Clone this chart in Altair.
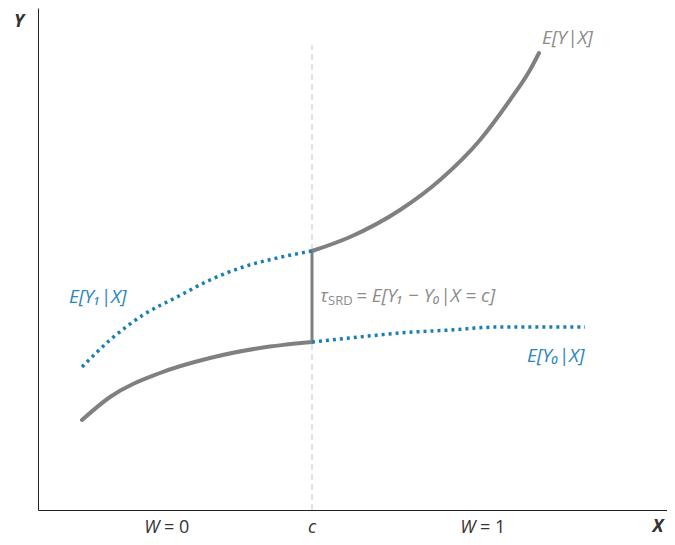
import altair as alt
import pandas as pd

# Curves (arbitrary units: x 0..629, y 0..502)
ey_left_x = [44, 72, 122, 172, 222, 274]
ey_left_y = [90, 113, 137, 152, 162, 168]
ey_right_x = [274, 312, 362, 402, 442, 472, 492, 501]
ey_right_y = [259, 273, 300, 330, 370, 410, 440, 457]
jump_x = [274, 274]
jump_y = [168, 259]
y1_x = [44, 72, 105, 139, 172, 205, 239, 274]
y1_y = [143, 170, 195, 213, 230, 243, 252, 259]
y0_x = [274, 312, 362, 412, 462, 547]
y0_y = [168, 172, 177, 180, 183, 183]
cutoff_x = [274, 274]
cutoff_y = [0, 465]

GRAY = "#808080"
BLUE = "#1a7fb6"
TGRAY = "#8c8c8c"
TBLUE = "#2a86c0"
FONT = "Open Sans"

def frame(xs, ys, name):
    return pd.DataFrame({"x": xs, "y": ys, "s": name, "o": list(range(len(xs)))})

xs = alt.Scale(domain=[0, 629], nice=False, zero=False)
ys = alt.Scale(domain=[0, 502], nice=False, zero=False)
X = alt.X("x:Q", scale=xs, axis=alt.Axis(title=None, labels=False, ticks=False, grid=False,
                                          domainColor="#222", domainWidth=1))
Y = alt.Y("y:Q", scale=ys, axis=alt.Axis(title=None, labels=False, ticks=False, grid=False,
                                          domainColor="#222", domainWidth=1))

def line(df, color, width, dash=None, interp="monotone"):
    kw = dict(color=color, strokeWidth=width, interpolate=interp, clip=False)
    if dash is not None:
        kw["strokeDash"] = dash
        kw["strokeCap"] = "butt"
    else:
        kw["strokeCap"] = "round"
    return alt.Chart(df).mark_line(**kw).encode(x=X, y=Y, order="o:Q")

def text(df, size, color, style="normal", weight="normal", align="left"):
    return alt.Chart(df).mark_text(font=FONT, fontSize=size, fontStyle=style, fontWeight=weight,
                                   align=align, baseline="middle", color=color).encode(
        x=X, y=Y, text="t:N")

cut = line(frame(cutoff_x, cutoff_y, "cut"), "#c4c4c4", 1, dash=[6, 4], interp="linear")
l1 = line(frame(ey_left_x, ey_left_y, "eyl"), GRAY, 4)
l2 = line(frame(ey_right_x, ey_right_y, "eyr"), GRAY, 4)
l3 = alt.Chart(frame(jump_x, jump_y, "jump")).mark_line(color=GRAY, strokeWidth=3, strokeCap="butt").encode(x=X, y=Y, order="o:Q")
l4 = line(frame(y1_x, y1_y, "y1"), BLUE, 3.5, dash=[3, 4])
l5 = line(frame(y0_x, y0_y, "y0"), BLUE, 3.5, dash=[3, 4])

# Curve labels
lab_gray = text(pd.DataFrame({"x": [504], "y": [472], "t": ["E[Y|X]"]}), 19, TGRAY, "italic")
lab_blue = text(pd.DataFrame({"x": [31, 489], "y": [213, 154],
                              "t": ["E[Y\u2081|X]", "E[Y\u2080|X]"]}), 19, TBLUE, "italic")

# tau formula
tau = text(pd.DataFrame({"x": [282], "y": [214], "t": ["\u03c4"]}), 19, TGRAY, "italic")
srd = text(pd.DataFrame({"x": [290], "y": [209], "t": ["SRD"]}), 13, TGRAY)
eq = text(pd.DataFrame({"x": [318], "y": [214], "t": ["= E[Y\u2081 \u2212 Y\u2080|X = c]"]}), 19, TGRAY, "italic")

# axis annotations
ax_it = text(pd.DataFrame({"x": [114, 274, 430], "y": [-18, -18, -18], "t": ["W", "c", "W"]}),
             18, "#333333", "italic", align="center")
ax_up = text(pd.DataFrame({"x": [126, 442], "y": [-18, -18], "t": ["= 0", "= 1"]}),
             18, "#333333")
xyl = text(pd.DataFrame({"x": [-19, 620], "y": [488, -17], "t": ["Y", "X"]}),
           18, "#333333", "italic", "bold", align="center")

chart = alt.layer(cut, l1, l2, l3, l4, l5, lab_gray, lab_blue, tau, srd, eq, ax_it, ax_up, xyl).properties(
    width=629, height=502,
    autosize=alt.AutoSizeParams(type="none"),
    padding={"left": 30, "top": 0, "right": 0, "bottom": 27},
).configure(background="white", view=alt.ViewConfig(stroke=None))

chart.save("out.html", embed_options={"renderer": "svg", "actions": False})
